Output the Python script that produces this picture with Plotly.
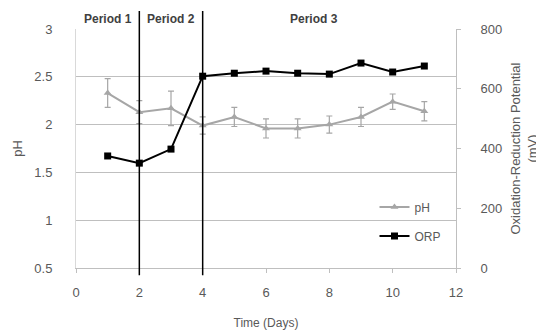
import plotly.graph_objects as go

days = [1, 2, 3, 4, 5, 6, 7, 8, 9, 10, 11]
ph = [2.33, 2.13, 2.17, 1.99, 2.08, 1.96, 1.96, 2.00, 2.08, 2.24, 2.14]
ph_err = [0.15, 0.12, 0.18, 0.09, 0.10, 0.10, 0.10, 0.09, 0.10, 0.08, 0.10]
orp = [375, 351, 398, 642, 652, 659, 652, 649, 686, 656, 676]
period_boundaries = [2, 4]
period_labels = ["Period 1", "Period 2", "Period 3"]
period_label_x = [1, 3, 7.5]

FONT = "Liberation Sans, Arial, sans-serif"
GRAY = "#595959"

fig = go.Figure()
fig.add_trace(go.Scatter(
    x=days, y=ph, name="pH", mode="lines+markers", legendgroup="a",
    line=dict(color="#a6a6a6", width=2),
    marker=dict(symbol="triangle-up", size=7, color="#a6a6a6"),
    error_y=dict(type="data", array=ph_err, color="#a6a6a6", thickness=1.2, width=3),
))
fig.add_trace(go.Scatter(
    x=days, y=orp, name="ORP", mode="lines+markers", yaxis="y2", legendgroup="b",
    line=dict(color="black", width=2),
    marker=dict(symbol="square", size=7, color="black"),
))

for b in period_boundaries:
    fig.add_shape(type="line", xref="x", yref="paper", x0=b, x1=b, y0=-0.03, y1=1.075,
                  line=dict(color="black", width=1.5))
for lbl, lx in zip(period_labels, period_label_x):
    fig.add_annotation(x=lx, y=1.0, xref="x", yref="paper", yanchor="bottom", yshift=1,
                       text=f"<b>{lbl}</b>", showarrow=False,
                       font=dict(family=FONT, size=12, color="#404040"))

fig.update_layout(
    width=536, height=322,
    margin=dict(l=68, r=88, t=21, b=62, autoexpand=False),
    paper_bgcolor="white", plot_bgcolor="white",
    font=dict(family=FONT, size=13, color=GRAY),
    showlegend=True,
    legend=dict(x=0.975, y=0.195, xanchor="right", yanchor="middle",
                bgcolor="rgba(0,0,0,0)", font=dict(size=12, color=GRAY),
                tracegroupgap=10, traceorder="grouped"),
    xaxis=dict(range=[0, 12], dtick=2, tick0=0, showgrid=False, zeroline=False,
               showline=True, linecolor="#bfbfbf", mirror=False, automargin=False,
               ticks="outside", ticklen=4, tickcolor="#bfbfbf", ticklabelstandoff=8,
               title=dict(text="Time (Days)", font=dict(size=12, color=GRAY), standoff=20)),
    yaxis=dict(range=[0.5, 3], dtick=0.5, tick0=0.5, showgrid=True, gridcolor="#bfbfbf",
               zeroline=False, showline=True, linecolor="#d9d9d9", automargin=False,
               ticks="outside", ticklen=6, tickcolor="rgba(0,0,0,0)", ticklabelstandoff=14,
               title=dict(text="pH", font=dict(size=13, color=GRAY), standoff=8)),
    yaxis2=dict(range=[0, 800], dtick=200, overlaying="y", side="right", showgrid=False,
                zeroline=False, showline=True, linecolor="#bfbfbf", ticks="outside",
                ticklen=4, tickcolor="#bfbfbf", automargin=False, ticklabelstandoff=17,
                title=dict(text="Oxidation-Reduction Potential<br>(mV)",
                           font=dict(size=13, color=GRAY), standoff=9)),
)

fig.write_html("out.html")
